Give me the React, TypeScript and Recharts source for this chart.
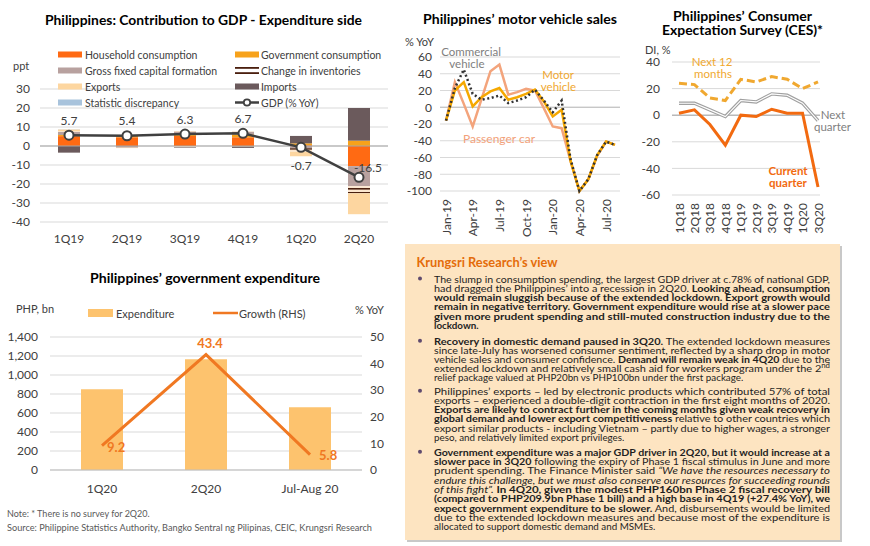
import React from 'react';
import {
  ComposedChart, LineChart, Bar, Line, XAxis, YAxis, CartesianGrid, ReferenceLine, LabelList,
} from 'recharts';

// ---------- Chart 1: Contribution to GDP ----------
const gdpQuarters = ['1Q19', '2Q19', '3Q19', '4Q19', '1Q20', '2Q20'];
const household = [5.2, 4.6, 5.3, 4.6, 0.4, -10.6];
const government = [0.6, 0.7, 0.8, 1.5, 1.0, 2.8];
const gfcf = [1.6, -0.9, 1.5, 1.4, -1.2, -10.5];
const inventories = [0.3, 0.1, -0.6, 0.3, -1.8, -3.8];
const exportsC = [1.0, -0.2, 0.2, -0.3, -2.4, -11.0];
const importsC = [-3.5, 0.4, -0.3, -0.7, 3.9, 17.2];
const discrepancy = [0.1, 0, 0, 0, 0, 0];
const gdpGrowth = [5.7, 5.4, 6.3, 6.7, -0.7, -16.5];
const gdpTicks = [-40, -30, -20, -10, 0, 10, 20, 30];

// ---------- Chart 2: motor vehicle sales ----------
const mvMonths = ['Jan-19', 'Feb-19', 'Mar-19', 'Apr-19', 'May-19', 'Jun-19', 'Jul-19', 'Aug-19', 'Sep-19', 'Oct-19', 'Nov-19', 'Dec-19',
  'Jan-20', 'Feb-20', 'Mar-20', 'Apr-20', 'May-20', 'Jun-20', 'Jul-20', 'Aug-20'];
const passengerCar = [-16, 30, 4, -23, 10, 43, 51, 15, 18, 22, 20, -1, -23, -25, -64, -100, -86, -58, -41, -45];
const motorVehicle = [-16, 20, 30, 1, 12, 19, 23, 9, 12, 16, 21, 7, -11, -3, -64, -100, -86, -57, -41, -45];
const commercialVehicle = [-16, 23, 45, 16, 9, 11, 14, 5, 8, 12, 21, 8, -6, 8, -62, -100, -86, -57, -41, -45];
const mvTicks = [-100, -80, -60, -40, -20, 0, 20, 40, 60];

// ---------- Chart 3: CES ----------
const cesQuarters = ['1Q18', '2Q18', '3Q18', '4Q18', '1Q19', '2Q19', '3Q19', '4Q19', '1Q20', '3Q20'];
const next12Months = [24, 23, 13, 11, 27, 25, 29, 27, 20, 25];
const nextQuarter = [9, 9, 4, -1, 11, 10, 16, 15, 9, -4];
const currentQuarter = [1.5, 4, -7, -22.5, 0, -1, 4.5, 1.5, 1.5, -54];
const cesTicks = [-60, -40, -20, 0, 20, 40];

// ---------- Chart 4: government expenditure ----------
const govPeriods = ['1Q20', '2Q20', 'Jul-Aug 20'];
const govExpenditure = [850, 1165, 660];
const govGrowth = [9.2, 43.4, 5.8];
const govLeftTicks = [0, 200, 400, 600, 800, 1000, 1200, 1400];
const govRightTicks = [0, 10, 20, 30, 40, 50];

const gdpData = gdpQuarters.map((q, i) => ({
  q, household: household[i], government: government[i], gfcf: gfcf[i], inventories: inventories[i],
  exports: exportsC[i], imports: importsC[i], discrepancy: discrepancy[i], gdp: gdpGrowth[i],
}));
const mvData = mvMonths.map((m, i) => ({ m, passenger: passengerCar[i], motor: motorVehicle[i], commercial: commercialVehicle[i] }));
const cesData = cesQuarters.map((q, i) => ({ q, next12: next12Months[i], nextQ: nextQuarter[i], current: currentQuarter[i] }));
const govData = govPeriods.map((p, i) => ({ p, exp: govExpenditure[i], growth: govGrowth[i] }));

const FONT = "Lato, 'Noto Sans', sans-serif";
const TXT = '#404040';
const TICK = { fontSize: 12, fill: TXT, fontFamily: FONT };

const C_HH = '#FF6A13';
const C_GOV = '#F7A21B';
const C_GFCF = '#B8A19F';
const C_INV_DARK = '#4A1F0E';
const C_EXP = '#FDD6A0';
const C_IMP = '#6B5A5C';
const C_DISC = '#A8C3DC';

type Seg = { t: string; b?: boolean; i?: boolean; sup?: boolean };
type TLine = { segs: Seg[]; full: boolean };

const bullet1: TLine[] = [
  { full: true, segs: [{ t: 'The slump in consumption spending, the largest GDP driver at c.78% of national GDP,' }] },
  { full: true, segs: [{ t: 'had dragged the Philippines\u2019 into a recession in 2Q20. ' }, { t: 'Looking ahead, consumption', b: true }] },
  { full: true, segs: [{ t: 'would remain sluggish because of the extended lockdown. Export growth would', b: true }] },
  { full: true, segs: [{ t: 'remain in negative territory. Government expenditure would rise at a slower pace', b: true }] },
  { full: true, segs: [{ t: 'given more prudent spending and still-muted construction industry due to the', b: true }] },
  { full: false, segs: [{ t: 'lockdown.', b: true }] },
];
const bullet2: TLine[] = [
  { full: true, segs: [{ t: 'Recovery in domestic demand paused in 3Q20.', b: true }, { t: ' The extended lockdown measures' }] },
  { full: true, segs: [{ t: 'since late-July has worsened consumer sentiment, reflected by a sharp drop in motor' }] },
  { full: true, segs: [{ t: 'vehicle sales and consumer confidence. ' }, { t: 'Demand will remain weak in 4Q20', b: true }, { t: ' due to the' }] },
  { full: true, segs: [{ t: 'extended lockdown and relatively small cash aid for workers program under the 2' }, { t: 'nd', sup: true }] },
  { full: false, segs: [{ t: 'relief package valued at PHP20bn vs PHP100bn under the first package.' }] },
];
const bullet3: TLine[] = [
  { full: true, segs: [{ t: 'Philippines\u2019 exports \u2013 led by electronic products which contributed 57% of total' }] },
  { full: true, segs: [{ t: 'exports \u2013 experienced a double-digit contraction in the first eight months of 2020.' }] },
  { full: true, segs: [{ t: 'Exports are likely to contract further in the coming months given weak recovery in', b: true }] },
  { full: true, segs: [{ t: 'global demand and lower export competitiveness', b: true }, { t: ' relative to other countries which' }] },
  { full: true, segs: [{ t: 'export similar products - including Vietnam \u2013 partly due to higher wages, a stronger' }] },
  { full: false, segs: [{ t: 'peso, and relatively limited export privileges.' }] },
];
const bullet4: TLine[] = [
  { full: true, segs: [{ t: 'Government expenditure was a major GDP driver in 2Q20, but it would increase at a', b: true }] },
  { full: true, segs: [{ t: 'slower pace in 3Q20', b: true }, { t: ' following the expiry of Phase 1 fiscal stimulus in June and more' }] },
  { full: true, segs: [{ t: 'prudent spending. The Finance Minister said ' }, { t: '\u201CWe have the resources necessary to', i: true }] },
  { full: true, segs: [{ t: 'endure this challenge, but we must also conserve our resources for succeeding rounds', i: true }] },
  { full: true, segs: [{ t: 'of this fight\u201D.', i: true }, { t: ' In 4Q20, given the modest PHP160bn Phase 2 fiscal recovery bill', b: true }] },
  { full: true, segs: [{ t: '(compared to PHP209.9bn Phase 1 bill) and a high base in 4Q19 (+27.4% YoY), we', b: true }] },
  { full: true, segs: [{ t: 'expect government expenditure to be slower.', b: true }, { t: ' And, disbursements would be limited' }] },
  { full: true, segs: [{ t: 'due to the extended lockdown measures and because most of the expenditure is' }] },
  { full: false, segs: [{ t: 'allocated to support domestic demand and MSMEs.' }] },
];

const bullets = [
  { lines: bullet1, y0: 278.5, step: 9.3 },
  { lines: bullet2, y0: 340.8, step: 9.15 },
  { lines: bullet3, y0: 390.7, step: 9.2 },
  { lines: bullet4, y0: 451.7, step: 9.3 },
];

const gdpLabel = (props: any) => {
  const { x, y, value, index } = props;
  let dx = 0;
  let dy = -15;
  if (index === 4) { dy = 18; }
  if (index === 5) { dx = 9; dy = -9.5; }
  return (
    <text x={x + dx} y={y + dy} textAnchor="middle" dominantBaseline="central" fontSize={12} fill={TXT} fontFamily={FONT}>
      {Number(value).toFixed(1)}
    </text>
  );
};

const govLabel = (props: any) => {
  const { x, y, value, index } = props;
  let dx = 5;
  let dy = 1;
  let anchor: any = 'start';
  if (index === 1) { dx = 4; dy = -12; anchor = 'middle'; }
  if (index === 2) { dx = 9; dy = 0; }
  return (
    <text x={x + dx} y={y + dy} textAnchor={anchor} dominantBaseline="central" fontSize={13} fontWeight="bold" fill="#F07822" fontFamily={FONT}>
      {Number(value).toFixed(1)}
    </text>
  );
};

const rotTick = (props: any) => {
  const { x, y, payload } = props;
  return (
    <text x={x} y={y} transform={`rotate(-90 ${x} ${y})`} textAnchor="end" dominantBaseline="central" fontSize={12} fill={TXT} fontFamily={FONT}>
      {payload.value}
    </text>
  );
};

const T = (p: { x: number; y: number; s: string; size?: number; fill?: string; bold?: boolean; anchor?: any; len?: number }) => (
  <text
    x={p.x}
    y={p.y}
    fontSize={p.size ?? 11}
    fill={p.fill ?? TXT}
    fontWeight={p.bold ? 'bold' : 'normal'}
    textAnchor={p.anchor ?? 'start'}
    dominantBaseline="central"
    fontFamily={FONT}
    {...(p.len ? { textLength: p.len, lengthAdjust: 'spacingAndGlyphs' } : {})}
  >
    {p.s}
  </text>
);

function GdpChart() {
  return (
    <ComposedChart width={400} height={250} data={gdpData} stackOffset="sign" margin={{ top: 89, right: 12, bottom: 0, left: 0 }}>
      <defs>
        <pattern id="invPattern" width="4" height="4" patternUnits="userSpaceOnUse">
          <rect width="4" height="4" fill="#FBE6CF" />
          <rect width="4" height="1.6" fill={C_INV_DARK} />
        </pattern>
      </defs>
      <CartesianGrid vertical={false} stroke="#D9D9D9" />
      <XAxis dataKey="q" axisLine={false} tickLine={false} tickSize={0} tickMargin={12} height={28} tick={TICK} />
      <YAxis domain={[-40, 30]} ticks={gdpTicks} interval={0} axisLine={false} tickLine={false} tickSize={0} tickMargin={10} width={40} tick={TICK} />
      <Bar dataKey="household" stackId="a" fill={C_HH} barSize={22} isAnimationActive={false} />
      <Bar dataKey="government" stackId="a" fill={C_GOV} barSize={22} isAnimationActive={false} />
      <Bar dataKey="gfcf" stackId="a" fill={C_GFCF} barSize={22} isAnimationActive={false} />
      <Bar dataKey="inventories" stackId="a" fill="url(#invPattern)" barSize={22} isAnimationActive={false} />
      <Bar dataKey="exports" stackId="a" fill={C_EXP} barSize={22} isAnimationActive={false} />
      <Bar dataKey="imports" stackId="a" fill={C_IMP} barSize={22} isAnimationActive={false} />
      <Bar dataKey="discrepancy" stackId="a" fill={C_DISC} barSize={22} isAnimationActive={false} />
      <ReferenceLine y={0} stroke="#A6A6A6" />
      <Line dataKey="gdp" stroke="#404040" strokeWidth={2.5} dot={{ r: 4.5, fill: '#fff', stroke: '#404040', strokeWidth: 2 }} isAnimationActive={false}>
        <LabelList dataKey="gdp" content={gdpLabel} />
      </Line>
    </ComposedChart>
  );
}

function MvChart() {
  return (
    <LineChart width={220} height={242} data={mvData} margin={{ top: 57, right: 0, bottom: 12, left: 0 }}>
      <CartesianGrid vertical={false} stroke="#D9D9D9" />
      <XAxis dataKey="m" interval={2} axisLine={false} tickLine={false} tickSize={0} tickMargin={8} height={39} padding={{ left: 6, right: 5 }} tick={rotTick} />
      <YAxis domain={[-100, 60]} ticks={mvTicks} interval={0} axisLine={false} tickLine={false} tickSize={0} tickMargin={8} width={40} tick={TICK} />
      <ReferenceLine y={0} stroke="#BFBFBF" />
      <Line dataKey="passenger" stroke="#F3A47C" strokeWidth={2.5} dot={false} isAnimationActive={false} />
      <Line dataKey="motor" stroke="#F5A800" strokeWidth={2.5} dot={false} isAnimationActive={false} />
      <Line dataKey="commercial" stroke="#333333" strokeWidth={2.5} strokeDasharray="2 2.6" dot={false} isAnimationActive={false} />
    </LineChart>
  );
}

function CesChart() {
  return (
    <LineChart width={250} height={242} data={cesData} margin={{ top: 62, right: 50, bottom: 12, left: 0 }}>
      <CartesianGrid vertical={false} stroke="#D9D9D9" />
      <XAxis dataKey="q" interval={0} axisLine={false} tickLine={false} tickSize={0} tickMargin={8} height={35} padding={{ left: 7, right: 2 }} tick={rotTick} />
      <YAxis domain={[-60, 40]} ticks={cesTicks} interval={0} axisLine={false} tickLine={false} tickSize={0} tickMargin={12} width={52} tick={TICK} />
      <ReferenceLine y={0} stroke="#A6A6A6" />
      <Line dataKey="next12" stroke="#F0A830" strokeWidth={3} strokeDasharray="8 4" dot={false} isAnimationActive={false} />
      <Line dataKey="nextQ" stroke="#A0A0A0" strokeWidth={3.4} dot={false} isAnimationActive={false} />
      <Line dataKey="nextQ" stroke="#FFFFFF" strokeWidth={1.1} dot={false} isAnimationActive={false} />
      <Line dataKey="current" stroke="#F26A10" strokeWidth={3} dot={false} isAnimationActive={false} />
    </LineChart>
  );
}

function GovChart() {
  return (
    <ComposedChart width={400} height={250} data={govData} margin={{ top: 77, right: 0, bottom: 0, left: 0 }}>
      <CartesianGrid vertical={false} stroke="#D9D9D9" yAxisId="left" />
      <XAxis dataKey="p" axisLine={false} tickLine={false} tickSize={0} tickMargin={14} height={40} tick={TICK} />
      <YAxis yAxisId="left" domain={[0, 1400]} ticks={govLeftTicks} interval={0} axisLine={false} tickLine={false} tickSize={0} tickMargin={12} width={50}
        tick={TICK} tickFormatter={(v: number) => v.toLocaleString('en-US')} />
      <YAxis yAxisId="right" orientation="right" domain={[0, 50]} ticks={govRightTicks} interval={0} axisLine={false} tickLine={false} tickSize={0} tickMargin={8} width={38} tick={TICK} />
      <ReferenceLine yAxisId="left" y={0} stroke="#BFBFBF" />
      <Bar yAxisId="left" dataKey="exp" fill="#FDC36E" barSize={42} isAnimationActive={false} />
      <Line yAxisId="right" dataKey="growth" stroke="#F07822" strokeWidth={3} dot={false} isAnimationActive={false}>
        <LabelList dataKey="growth" content={govLabel} />
      </Line>
    </ComposedChart>
  );
}

function LegendSwatch({ x, y, kind, color }: { x: number; y: number; kind: string; color?: string }) {
  if (kind === 'inv') {
    return (
      <g>
        <rect x={x} y={y - 3.5} width={24} height={7} fill="#FFF" />
        <rect x={x} y={y - 3.5} width={24} height={1.8} fill={C_INV_DARK} />
        <rect x={x} y={y + 1.7} width={24} height={1.8} fill={C_INV_DARK} />
      </g>
    );
  }
  if (kind === 'gdp') {
    return (
      <g>
        <line x1={x} x2={x + 24} y1={y} y2={y} stroke="#404040" strokeWidth={2.5} />
        <circle cx={x + 12} cy={y} r={3.2} fill="#fff" stroke="#404040" strokeWidth={1.8} />
      </g>
    );
  }
  return <rect x={x} y={y - 3} width={24} height={6} fill={color} />;
}

function TextBox() {
  return (
    <g>
      <rect x={407} y={246} width={435} height={296} fill="#C8C8C8" />
      <rect x={405} y={244} width={435} height={296} fill="#FDE4C1" />
      <T x={416.5} y={262} s={'Krungsri Research\u2019s view'} size={13} bold fill="#E46C0A" len={141} />
      {bullets.map((bl, bi) => (
        <g key={bi}>
          <circle cx={420} cy={bl.y0} r={2} fill="#5F4A6E" />
          {bl.lines.map((ln, li) => (
            <text
              key={li}
              x={434}
              y={bl.y0 + li * bl.step}
              fontSize={9.8}
              fill="#1F1F1F"
              fontFamily={FONT}
              dominantBaseline="central"
              style={{ whiteSpace: 'pre' }}
              {...(ln.full ? { textLength: 396, lengthAdjust: 'spacingAndGlyphs' } : {})}
            >
              {ln.segs.map((sg, si) => (
                <tspan
                  key={si}
                  fontWeight={sg.b ? 'bold' : 'normal'}
                  fontStyle={sg.i ? 'italic' : 'normal'}
                  fontSize={sg.sup ? 7 : 9.8}
                  dy={sg.sup ? -3 : 0}
                >
                  {sg.t}
                </tspan>
              ))}
            </text>
          ))}
        </g>
      ))}
    </g>
  );
}

export default function App() {
  return (
    <div style={{ position: 'absolute', left: 0, top: 0, width: 870, height: 546, background: '#fff', overflow: 'hidden', fontFamily: FONT }}>
      <div style={{ position: 'absolute', left: 0, top: 0 }}><GdpChart /></div>
      <div style={{ position: 'absolute', left: 400, top: 0 }}><MvChart /></div>
      <div style={{ position: 'absolute', left: 620, top: 0 }}><CesChart /></div>
      <div style={{ position: 'absolute', left: 0, top: 260 }}><GovChart /></div>
      <svg width={870} height={546} style={{ position: 'absolute', left: 0, top: 0, pointerEvents: 'none' }}>
        {/* Chart 1 titles & legend */}
        <T x={45} y={19} s="Philippines: Contribution to GDP - Expenditure side" size={14} bold fill="#000" len={317} />
        <T x={13} y={65} s="ppt" size={11} />
        <LegendSwatch x={58} y={54.5} kind="rect" color={C_HH} />
        <T x={85} y={54.5} s="Household consumption" size={10.5} />
        <LegendSwatch x={235} y={54.5} kind="rect" color={C_GOV} />
        <T x={261} y={54.5} s="Government consumption" size={10.5} />
        <LegendSwatch x={58} y={70.5} kind="rect" color={C_GFCF} />
        <T x={85} y={70.5} s="Gross fixed capital formation" size={10.5} />
        <LegendSwatch x={235} y={70.5} kind="inv" />
        <T x={261} y={70.5} s="Change in inventories" size={10.5} />
        <LegendSwatch x={58} y={86.5} kind="rect" color={C_EXP} />
        <T x={85} y={86.5} s="Exports" size={10.5} />
        <LegendSwatch x={235} y={86.5} kind="rect" color={C_IMP} />
        <T x={261} y={86.5} s="Imports" size={10.5} />
        <LegendSwatch x={58} y={102.5} kind="rect" color={C_DISC} />
        <T x={85} y={102.5} s="Statistic discrepancy" size={10.5} />
        <LegendSwatch x={235} y={102.5} kind="gdp" />
        <T x={261} y={102.5} s="GDP (% YoY)" size={10.5} />

        {/* Chart 2 */}
        <T x={423} y={18} s={'Philippines\u2019 motor vehicle sales'} size={14} bold fill="#000" len={194} />
        <T x={405} y={41} s="% YoY" size={11} />
        <T x={471} y={51.5} s="Commercial" size={11.5} fill="#808080" anchor="middle" />
        <T x={467} y={63} s="vehicle" size={11.5} fill="#808080" anchor="middle" />
        <T x={558} y={74} s="Motor" size={11.5} fill="#F0A830" anchor="middle" />
        <T x={558.5} y={86} s="vehicle" size={11.5} fill="#F0A830" anchor="middle" />
        <T x={499} y={138} s="Passenger car" size={12} fill="#F2A17A" anchor="middle" />

        {/* Chart 3 */}
        <T x={673} y={15} s={'Philippines\u2019 Consumer'} size={14} bold fill="#000" len={139} />
        <T x={662} y={29.5} s="Expectation Survey (CES)*" size={14} bold fill="#000" len={161} />
        <T x={645} y={49} s="DI, %" size={11} />
        <T x={712} y={61.5} s="Next 12" size={11.5} fill="#F0A830" anchor="middle" />
        <T x={713} y={73.5} s="months" size={11.5} fill="#F0A830" anchor="middle" />
        <T x={788} y={170} s="Current" size={11.5} bold fill="#F26A10" anchor="middle" />
        <T x={788} y={182.5} s="quarter" size={11.5} bold fill="#F26A10" anchor="middle" />
        <T x={833} y={114} s="Next" size={11.5} fill="#808080" anchor="middle" />
        <T x={832.5} y={126.5} s="quarter" size={11.5} fill="#808080" anchor="middle" />

        {/* Chart 4 */}
        <T x={90} y={277} s={'Philippines\u2019 government expenditure'} size={14} bold fill="#000" len={230} />
        <T x={16} y={308} s="PHP, bn" size={11} />
        <rect x={88} y={309} width={25} height={8} fill="#FDC36E" />
        <T x={116} y={313} s="Expenditure" size={11} />
        <line x1={213} x2={238} y1={313} y2={313} stroke="#F07822" strokeWidth={2.5} />
        <T x={239} y={313} s="Growth (RHS)" size={11} />
        <T x={355} y={309} s="% YoY" size={11} />

        {/* Footnote */}
        <T x={7} y={513} s="Note: * There is no survey for 2Q20." size={9} fill="#595959" />
        <T x={7} y={527.5} s="Source: Philippine Statistics Authority, Bangko Sentral ng Pilipinas, CEIC, Krungsri Research" size={9} fill="#595959" len={365} />

        <TextBox />
      </svg>
    </div>
  );
}
